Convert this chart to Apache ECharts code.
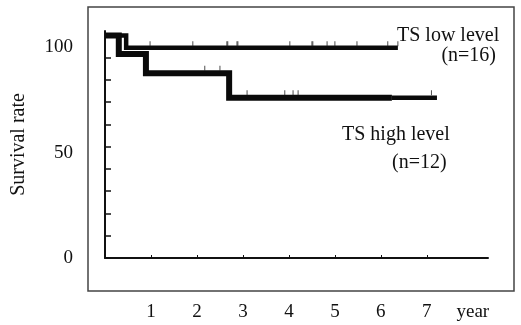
<!DOCTYPE html>
<html>
<head>
<meta charset="utf-8">
<script src="https://cdn.jsdelivr.net/npm/echarts@6/dist/echarts.min.js"></script>
<style>
html, body { margin: 0; padding: 0; background: #ffffff; }
#survivalChart { width: 521px; height: 325px; }
</style>
</head>
<body>
<div id="survivalChart"></div>
<script>
// Kaplan-Meier steps (years, survival %)
var lowTimes = [0, 0.46, 6.37]
var lowRates = [100, 94.5, 94.5]
var lowCensored = [0.98, 1.91, 2.65, 2.67, 2.87, 2.89, 4.02, 4.5, 4.52, 4.83, 5.0, 5.48, 6.15, 6.37]

var highTimes = [0, 0.3, 0.89, 2.7, 6.24]
var highRates = [100, 91.7, 83, 72, 72]
var highTailTimes = [6.24, 7.22]
var highTailRates = [72, 72]
var highCensored = [2.17, 2.5, 3.09, 3.91, 4.09, 4.2, 7.1]

// axis ticks / labels
var xTickValues = [1, 2, 3, 4, 5, 6, 7]
var xLabelValues = [1, 2, 3, 4, 5, 6, 7, 8]
var yTickValues = [0, 10, 20, 30, 40, 50, 60, 70, 80, 90, 100]
var yLabelValues = [0, 50, 100]

var FONT = "'Liberation Serif', 'DejaVu Serif', serif"

function pairs(xs, ys) {
	return xs.map(function (x, i) { return [x, ys[i]] })
}
// survival level of a step curve at time t
function levelAt(xs, ys, t) {
	var v = ys[0]
	for (var i = 0; i < xs.length; i++) {
		if (xs[i] <= t) v = ys[i]
	}
	return v
}

var myCharts = echarts.init(document.getElementById("survivalChart"))
var option = {
	animation: false,
	backgroundColor: "#ffffff",
	grid: {
		left: 105,
		right: 33,
		top: 31,
		bottom: 67,
		containLabel: false,
		outerBoundsMode: "none",
	},
	xAxis: {
		type: "value",
		min: 0,
		max: 8.33,
		splitLine: { show: false },
		axisLine: { show: true, lineStyle: { color: "#111", width: 2 } },
		axisTick: {
			show: true,
			inside: true,
			length: 3,
			customValues: xTickValues,
			lineStyle: { color: "#111", width: 1 },
		},
		axisLabel: {
			customValues: xLabelValues,
			margin: 45,
			color: "#111",
			fontSize: 19,
			fontFamily: FONT,
			formatter: function (v) {
				return v === 8 ? "year" : String(v)
			},
		},
	},
	yAxis: {
		type: "value",
		min: 0,
		max: 102,
		splitLine: { show: false },
		axisLine: { show: true, lineStyle: { color: "#111", width: 2 } },
		axisTick: {
			show: true,
			inside: true,
			length: 6,
			customValues: yTickValues,
			lineStyle: { color: "#111", width: 1.5 },
		},
		axisLabel: {
			customValues: yLabelValues,
			margin: 32,
			color: "#111",
			fontSize: 19,
			fontFamily: FONT,
			formatter: function (v) {
				if (v === 100) return "{a|100}"
				if (v === 50) return "{b|50}"
				return "{c|" + v + "}"
			},
			rich: {
				a: { fontSize: 19, fontFamily: FONT, color: "#111", padding: [24, 0, 0, 0] },
				b: { fontSize: 19, fontFamily: FONT, color: "#111", padding: [12, 0, 0, 0] },
				c: { fontSize: 19, fontFamily: FONT, color: "#111" },
			},
		},
		name: "Survival rate",
		nameLocation: "middle",
		nameRotate: 90,
		nameGap: 76,
		nameTextStyle: { fontSize: 20, fontFamily: FONT, color: "#111" },
	},
	series: [
		{
			name: "TS high level",
			type: "line",
			step: "end",
			symbol: "none",
			data: pairs(highTimes, highRates),
			lineStyle: { color: "#0a0a0a", width: 6, cap: "butt", join: "miter" },
			z: 2,
		},
		{
			name: "TS high level tail",
			type: "line",
			step: "end",
			symbol: "none",
			data: pairs(highTailTimes, highTailRates),
			lineStyle: { color: "#0a0a0a", width: 4.5, cap: "butt" },
			z: 2,
		},
		{
			name: "TS low level",
			type: "line",
			step: "end",
			symbol: "none",
			data: pairs(lowTimes, lowRates),
			lineStyle: { color: "#0a0a0a", width: 4.5, cap: "butt", join: "miter" },
			z: 3,
		},
		{
			name: "low censored",
			type: "scatter",
			symbol: "rect",
			symbolSize: [1, 5],
			symbolOffset: [0, -4],
			itemStyle: { color: "#222" },
			data: lowCensored.map(function (t) { return [t, levelAt(lowTimes, lowRates, t)] }),
			z: 4,
		},
		{
			name: "high censored",
			type: "scatter",
			symbol: "rect",
			symbolSize: [1, 5],
			symbolOffset: [0, -5],
			itemStyle: { color: "#222" },
			data: highCensored.map(function (t) { return [t, levelAt(highTimes.concat(highTailTimes), highRates.concat(highTailRates), t)] }),
			z: 4,
		},
	],
	graphic: [
		{
			type: "rect",
			shape: { x: 88, y: 7, width: 426, height: 284 },
			style: { fill: null, stroke: "#444", lineWidth: 1.5 },
			z: 0,
		},
		{
			type: "text",
			x: 397, y: 36,
			style: { text: "TS low level", font: "20px " + FONT, fill: "#111", textVerticalAlign: "middle" },
		},
		{
			type: "text",
			x: 496, y: 56,
			style: { text: "(n=16)", font: "20px " + FONT, fill: "#111", textAlign: "right", textVerticalAlign: "middle" },
		},
		{
			type: "text",
			x: 342, y: 135,
			style: { text: "TS high level", font: "20px " + FONT, fill: "#111", textVerticalAlign: "middle" },
		},
		{
			type: "text",
			x: 392, y: 163,
			style: { text: "(n=12)", font: "20px " + FONT, fill: "#111", textVerticalAlign: "middle" },
		},
	],
}
myCharts.setOption(option)
</script>
</body>
</html>
